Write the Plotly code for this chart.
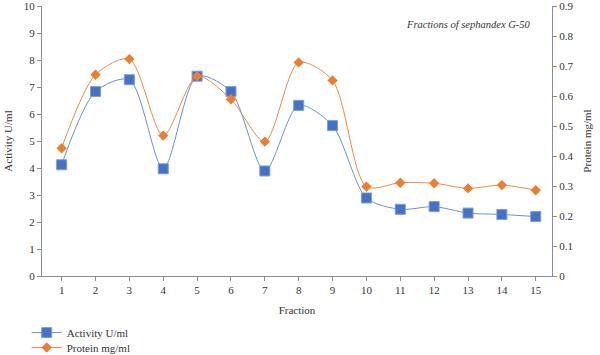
import plotly.graph_objects as go

fractions = list(range(1, 16))
activity = [4.12, 6.83, 7.27, 3.97, 7.40, 6.83, 3.89, 6.32, 5.57, 2.89, 2.47, 2.57, 2.33, 2.28, 2.20]
protein = [0.426, 0.671, 0.723, 0.468, 0.666, 0.589, 0.448, 0.712, 0.652, 0.298, 0.311, 0.309, 0.292, 0.303, 0.286]

FONT = "Liberation Serif"
AX = "#8c8c8c"

fig = go.Figure()
fig.add_trace(go.Scatter(
    x=fractions, y=activity, name="Activity U/ml", mode="lines+markers",
    line=dict(color="#6a8fd8", width=1, shape="spline", smoothing=0.8),
    marker=dict(symbol="square", size=10, color="#4472C4", line=dict(color="#7b9bdb", width=1)),
    yaxis="y", legend="legend"))
fig.add_trace(go.Scatter(
    x=fractions, y=protein, name="Protein mg/ml", mode="lines+markers",
    line=dict(color="#F08A45", width=1, shape="spline", smoothing=0.8),
    marker=dict(symbol="diamond", size=8, color="#ED7D31"),
    yaxis="y2", legend="legend2"))

leg_common = dict(xanchor="left", yanchor="top", bgcolor="rgba(0,0,0,0)",
                  font=dict(family=FONT, size=11, color="#333"), itemwidth=30)

fig.update_layout(
    width=600, height=355,
    margin=dict(l=42, r=48, t=6, b=79, autoexpand=False),
    paper_bgcolor="white", plot_bgcolor="white",
    font=dict(family=FONT, size=11, color="#333"),
    showlegend=True,
    legend=dict(x=-0.03, y=-0.156, **leg_common),
    legend2=dict(x=-0.03, y=-0.211, **leg_common),
    xaxis=dict(range=[0.42, 15.48], tickmode="array", tickvals=fractions,
               ticktext=[str(f) for f in fractions], automargin=False,
               showline=True, linecolor=AX, linewidth=1, ticks="outside", ticklen=4,
               tickcolor=AX, showgrid=False, zeroline=False,
               title=dict(text="Fraction", standoff=11, font=dict(size=11))),
    yaxis=dict(range=[0, 10], dtick=1, showline=True, linecolor=AX, linewidth=1,
               automargin=False, ticklabeloverflow="allow",
               ticks="outside", ticklen=4, tickcolor=AX, showgrid=False, zeroline=False,
               title=dict(text="Activity U/ml", standoff=8, font=dict(size=11))),
    yaxis2=dict(range=[0, 0.9], dtick=0.1, overlaying="y", side="right",
                automargin=False, ticklabeloverflow="allow",
                showline=True, linecolor=AX, linewidth=1, ticks="outside", ticklen=4,
                tickcolor=AX, showgrid=False, zeroline=False,
                tickvals=[0, 0.1, 0.2, 0.3, 0.4, 0.5, 0.6, 0.7, 0.8, 0.9],
                ticktext=["0", "0.1", "0.2", "0.3", "0.4", "0.5", "0.6", "0.7", "0.8", "0.9"],
                title=dict(text="Protein mg/ml", standoff=10, font=dict(size=11))),
    annotations=[dict(text="<i>Fractions of sephandex G-50</i>", x=0.710, y=0.93,
                      xref="paper", yref="paper", xanchor="left", yanchor="middle",
                      showarrow=False, font=dict(family=FONT, size=10.5, color="#333"))],
)

fig.write_html("out.html", config={"displayModeBar": False},
               post_script="document.body.style.margin='0';document.body.style.padding='0';")
